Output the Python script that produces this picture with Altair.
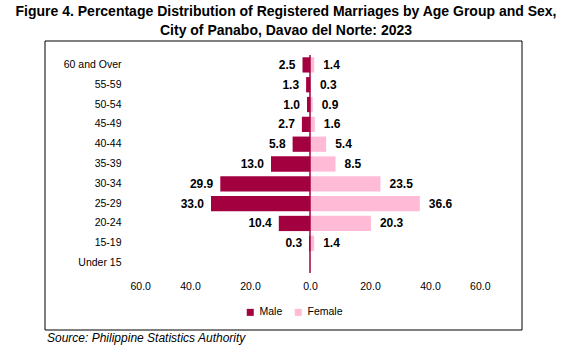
import altair as alt
import pandas as pd

ages = ["60 and Over", "55-59", "50-54", "45-49", "40-44", "35-39",
        "30-34", "25-29", "20-24", "15-19", "Under 15"]
male = [2.5, 1.3, 1.0, 2.7, 5.8, 13.0, 29.9, 33.0, 10.4, 0.3, None]
female = [1.4, 0.3, 0.9, 1.6, 5.4, 8.5, 23.5, 36.6, 20.3, 1.4, None]
x_ticks = [-60, -40, -20, 0, 20, 40, 60]
sexes = ["Male", "Female"]
colors = ["#A2003F", "#FFBBD6"]

title1 = "Figure 4. Percentage Distribution of Registered Marriages by Age Group and Sex,"
title2 = "City of Panabo, Davao del Norte: 2023"
source = "Source: Philippine Statistics Authority"

rows = []
for a, m, f in zip(ages, male, female):
    if m is not None:
        rows.append({"age": a, "sex": "Male", "value": m, "signed": -m})
    if f is not None:
        rows.append({"age": a, "sex": "Female", "value": f, "signed": f})
df = pd.DataFrame(rows)

FONT = "Liberation Sans"
PI = 0.23

y_enc = alt.Y(
    "age:N", sort=ages,
    scale=alt.Scale(domain=ages, paddingInner=PI, paddingOuter=PI / 2),
    axis=alt.Axis(title=None, ticks=False, domain=False, labelFont=FONT,
                  labelFontSize=10.5, labelColor="black", labelPadding=9),
)
x_enc = alt.X(
    "signed:Q",
    scale=alt.Scale(domain=[-60, 60], nice=False, zero=False),
    axis=alt.Axis(title=None, values=x_ticks, grid=False, ticks=False, domain=False,
                  labelExpr="format(abs(datum.value), '.1f')", labelFont=FONT,
                  labelFontSize=10.5, labelColor="black", labelPadding=8),
)

base = alt.Chart(df)

bars = base.mark_bar().encode(
    x=x_enc, y=y_enc,
    color=alt.Color("sex:N", scale=alt.Scale(domain=sexes, range=colors),
                    legend=alt.Legend(title=None, orient="none", direction="horizontal",
                                      legendX=115, legendY=252, symbolType="square",
                                      symbolSize=49, symbolStrokeWidth=0,
                                      labelFont=FONT, labelFontSize=10.5,
                                      labelColor="black", columnPadding=10,
                                      labelOffset=4)),
)

male_text = base.transform_filter(alt.datum.sex == "Male").mark_text(
    align="right", baseline="middle", dx=-7, font=FONT, fontSize=12,
    fontWeight="bold", color="black",
).encode(x="signed:Q", y=alt.Y("age:N", sort=ages), text=alt.Text("value:Q", format=".1f"))

female_text = base.transform_filter(alt.datum.sex == "Female").mark_text(
    align="left", baseline="middle", dx=9, font=FONT, fontSize=12,
    fontWeight="bold", color="black",
).encode(x="signed:Q", y=alt.Y("age:N", sort=ages), text=alt.Text("value:Q", format=".1f"))

one = alt.Chart(pd.DataFrame({"k": [0]}))

zero_rule = one.mark_rule(color=colors[0], strokeWidth=1.5).encode(x=alt.datum(0))

border = one.mark_rect(fillOpacity=0, stroke="black", strokeWidth=1).encode(
    x=alt.value(-85), x2=alt.value(392), y=alt.value(-14), y2=alt.value(275)
)

t1 = one.mark_text(font=FONT, fontSize=14, fontWeight="bold", color="black",
                   align="center", baseline="middle").encode(
    x=alt.value(156), y=alt.value(-43), text=alt.value(title1))
t2 = one.mark_text(font=FONT, fontSize=14, fontWeight="bold", color="black",
                   align="center", baseline="middle").encode(
    x=alt.value(156), y=alt.value(-24), text=alt.value(title2))
src = one.mark_text(font=FONT, fontSize=12, fontStyle="italic", color="black",
                    align="left", baseline="middle").encode(
    x=alt.value(-83), y=alt.value(283), text=alt.value(source))

chart = alt.layer(border, bars, zero_rule, male_text, female_text, t1, t2, src).properties(
    width=360, height=218,
    autosize=alt.AutoSizeParams(type="none"),
    padding={"left": 130, "top": 55, "right": 83, "bottom": 79},
    background="white",
).configure_view(stroke=None)

chart.save("out.html", embed_options={"renderer": "svg", "actions": False})
